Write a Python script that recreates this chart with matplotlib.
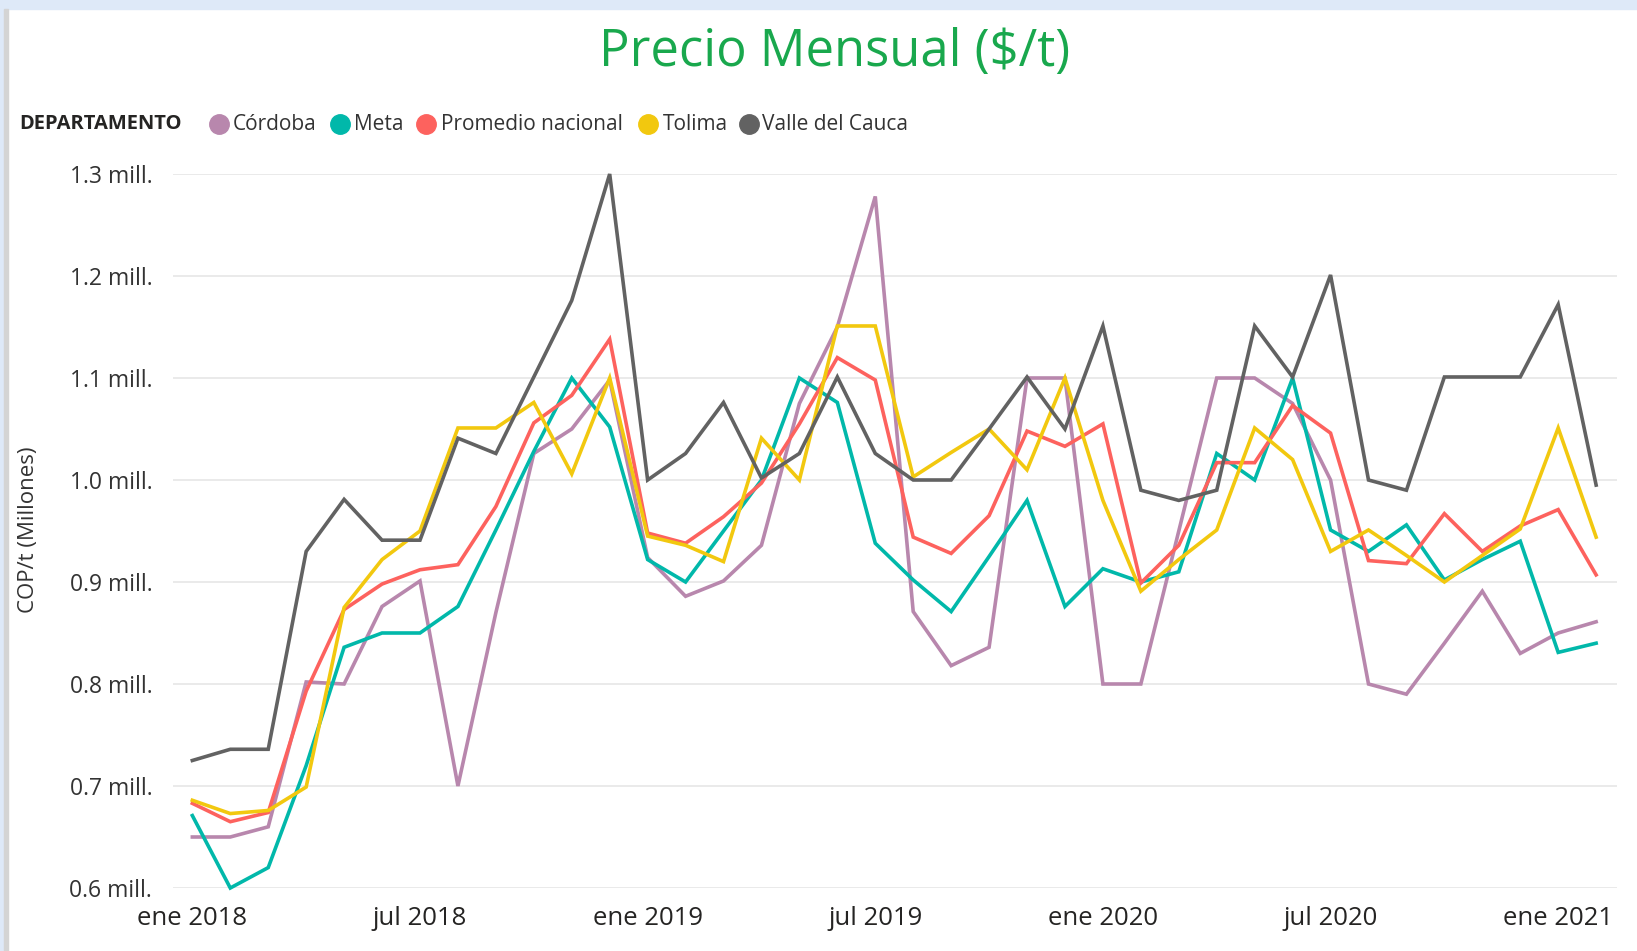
import matplotlib
matplotlib.use("Agg")
import matplotlib.pyplot as plt
from matplotlib.lines import Line2D
from matplotlib.patches import Rectangle

plt.rcParams['font.family'] = ['Open Sans', 'DejaVu Sans']

# monthly prices (millions COP/t), ene 2018 .. feb 2021
cordoba = [0.65, 0.65, 0.66, 0.802, 0.80, 0.876, 0.901, 0.70, 0.87, 1.026, 1.05, 1.098,
           0.924, 0.886, 0.901, 0.936, 1.075, 1.15, 1.278, 0.871, 0.818, 0.836, 1.10, 1.10,
           0.80, 0.80, 0.95, 1.10, 1.10, 1.075, 1.0, 0.80, 0.79, 0.84, 0.891, 0.83, 0.85, 0.861]
meta = [0.671, 0.600, 0.620, 0.72, 0.836, 0.85, 0.85, 0.876, 0.951, 1.028, 1.10, 1.052,
        0.922, 0.90, 0.95, 1.0, 1.10, 1.076, 0.938, 0.902, 0.871, 0.925, 0.98, 0.876,
        0.913, 0.90, 0.91, 1.026, 1.0, 1.10, 0.951, 0.93, 0.956, 0.902, 0.922, 0.94, 0.831, 0.84]
promedio = [0.683, 0.665, 0.674, 0.793, 0.873, 0.898, 0.912, 0.917, 0.974, 1.056, 1.083, 1.138,
            0.948, 0.938, 0.964, 0.997, 1.055, 1.12, 1.098, 0.944, 0.928, 0.965, 1.048, 1.033,
            1.055, 0.899, 0.936, 1.017, 1.017, 1.073, 1.046, 0.921, 0.918, 0.967, 0.930, 0.955, 0.971, 0.907]
tolima = [0.686, 0.673, 0.676, 0.699, 0.875, 0.922, 0.95, 1.051, 1.051, 1.076, 1.006, 1.10,
          0.945, 0.936, 0.92, 1.041, 1.0, 1.151, 1.151, 1.003, 1.027, 1.05, 1.01, 1.10,
          0.98, 0.891, 0.922, 0.951, 1.051, 1.02, 0.93, 0.951, 0.926, 0.90, 0.926, 0.952, 1.051, 0.944]
valle = [0.725, 0.736, 0.736, 0.930, 0.981, 0.941, 0.941, 1.041, 1.026, 1.101, 1.176, 1.300,
         1.000, 1.026, 1.076, 1.002, 1.026, 1.101, 1.026, 1.000, 1.000, 1.050, 1.101, 1.050,
         1.151, 0.990, 0.980, 0.990, 1.151, 1.101, 1.201, 1.000, 0.990, 1.101, 1.101, 1.101, 1.172, 0.995]

series = ["Córdoba", "Meta", "Promedio nacional", "Tolima", "Valle del Cauca"]
values = [cordoba, meta, promedio, tolima, valle]
colors = ["#B887AD", "#01B8AA", "#FD625E", "#F2C80F", "#626262"]

tick_pos = [0, 6, 12, 18, 24, 30, 36]
tick_labels = ["ene 2018", "jul 2018", "ene 2019", "jul 2019", "ene 2020", "jul 2020", "ene 2021"]
y_ticks = [0.6, 0.7, 0.8, 0.9, 1.0, 1.1, 1.2, 1.3]

W, H = 1637, 951
fig = plt.figure(figsize=(W / 100, H / 100), dpi=100)
fig.patch.set_facecolor("white")

# frame decorations (light blue band at top, grey strip on the left)
fig.patches.append(Rectangle((0, 1 - 9 / H), 1, 9 / H, transform=fig.transFigure,
                             color="#DEE9F8", zorder=0))
fig.patches.append(Rectangle((0, 0), 4 / W, 1, transform=fig.transFigure,
                             color="#DEE9F8", zorder=0))
fig.patches.append(Rectangle((4 / W, 0), 4 / W, 1 - 9 / H, transform=fig.transFigure,
                             color="#D4D4D4", zorder=0))

ax = fig.add_axes([173 / W, 1 - 888 / H, (1617 - 173) / W, (888 - 174) / H])
for name, vals, c in zip(series, values, colors):
    ax.plot(range(len(vals)), vals, color=c, lw=2.6, label=name, clip_on=False,
            solid_joinstyle="miter")

ax.set_xlim(-0.51, 37.55)
ax.set_ylim(0.6, 1.3)
ax.set_yticks(y_ticks)
ax.set_yticklabels([f"{v:.1f} mill." for v in y_ticks])
ax.set_xticks(tick_pos)
ax.set_xticklabels(tick_labels)
ax.tick_params(axis="y", length=0, pad=15, labelsize=16.5, labelcolor="#333333")
ax.tick_params(axis="x", length=0, pad=13, labelsize=18.5, labelcolor="#252423")
ax.grid(axis="y", color="#EAEAEA", lw=1.4)
ax.set_axisbelow(True)
for s in ax.spines.values():
    s.set_visible(False)

fig.text(29 / W, 1 - 530 / H, "COP/t (Millones)", rotation=90, ha="center", va="center",
         fontsize=16, color="#333333")

fig.text(835 / W, 1 - 53 / H, "Precio Mensual ($/t)", ha="center", va="center",
         fontsize=36.5, color="#19A84D")

# legend
ly = 1 - 124 / H
fig.text(19 / W, ly, "DEPARTAMENTO", ha="left", va="center", fontsize=14.5,
         fontweight="bold", color="#252423")
dots_x = [219, 340, 426, 648, 749]
text_x = [233, 354, 441, 663, 762]
for name, c, dx, tx in zip(series, colors, dots_x, text_x):
    fig.add_artist(Line2D([dx / W], [ly], marker="o", markersize=14, color=c,
                          transform=fig.transFigure, linestyle="none"))
    fig.text(tx / W, ly, name, ha="left", va="center", fontsize=15, color="#333333")

fig.savefig("out.png", dpi=100)
